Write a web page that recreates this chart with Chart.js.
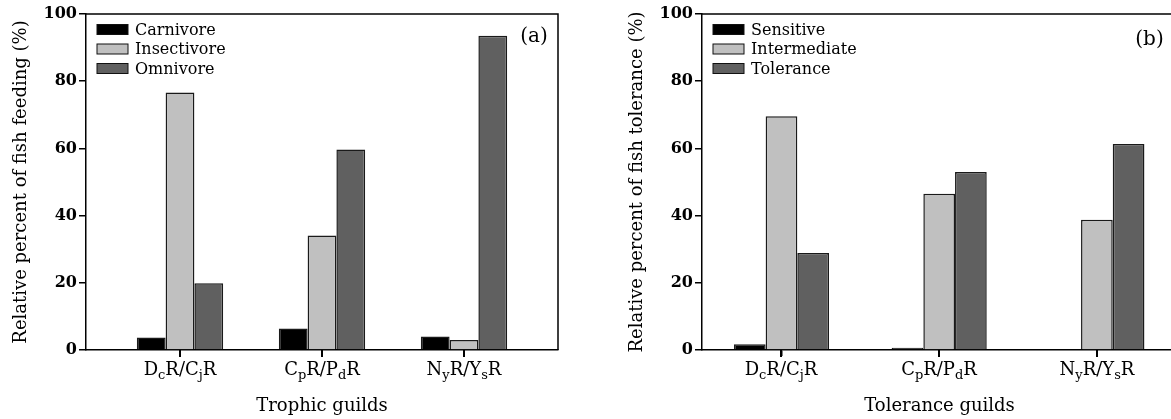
<!DOCTYPE html>
<html>
<head>
<meta charset="utf-8">
<script src="https://cdn.jsdelivr.net/npm/chart.js@4.4.0/dist/chart.umd.min.js"></script>
<style>
  html, body { margin: 0; padding: 0; background: #fff; overflow: hidden; width: 1171px; height: 419px; }
  .panel { position: absolute; top: 0; }
  #panelA { left: 0; }
  #panelB { left: 616px; }
</style>
</head>
<body>
<div class="panel" id="panelA"><canvas id="chartA" width="585" height="419"></canvas></div>
<div class="panel" id="panelB"><canvas id="chartB" width="590" height="419"></canvas></div>
<script>
// Data
const guilds = ['D_cR/C_jR', 'C_pR/P_dR', 'N_yR/Y_sR'];
const yTicks = [0, 20, 40, 60, 80, 100];

const feedingNames = ['Carnivore', 'Insectivore', 'Omnivore'];
const carnivore = [3.7, 6.4, 4.0];
const insectivore = [76.6, 34.1, 3.0];
const omnivore = [19.9, 59.7, 93.5];

const toleranceNames = ['Sensitive', 'Intermediate', 'Tolerance'];
const sensitive = [1.7, 0.7, 0];
const intermediate = [69.6, 46.5, 38.8];
const tolerant = [28.9, 53.0, 61.3];

const barColors = ['#000000', '#c0c0c0', '#606060'];
const serif = '"DejaVu Serif", serif';

// draw "D_cR/C_jR" with the _x letters as subscripts
function drawGuildLabel(ctx, text, cx, baseline) {
    const parts = [];
    for (let i = 0; i < text.length; i++) {
        if (text[i] === '_') { parts.push({ t: text[i + 1], sub: true }); i++; }
        else parts.push({ t: text[i], sub: false });
    }
    const mainFont = '18px ' + serif;
    const subFont = '13px ' + serif;
    let w = 0;
    parts.forEach(p => {
        ctx.font = p.sub ? subFont : mainFont;
        p.w = ctx.measureText(p.t).width;
        w += p.w;
    });
    let x = cx - w / 2;
    ctx.textAlign = 'left';
    ctx.textBaseline = 'alphabetic';
    parts.forEach(p => {
        ctx.font = p.sub ? subFont : mainFont;
        ctx.fillText(p.t, x, baseline + (p.sub ? 4 : 0));
        x += p.w;
    });
}

const decor = {
    id: 'decor',
    afterDraw(chart, args, opts) {
        const { ctx, chartArea: a, scales } = chart;
        ctx.save();
        // top and right frame
        ctx.strokeStyle = '#000';
        ctx.lineWidth = 1.5;
        ctx.beginPath();
        ctx.moveTo(a.left, a.top);
        ctx.lineTo(a.right, a.top);
        ctx.lineTo(a.right, a.bottom);
        ctx.stroke();

        // category tick marks and labels
        ctx.fillStyle = '#000';
        guilds.forEach((g, i) => {
            const px = Math.round(scales.x.getPixelForValue(i + 1));
            ctx.fillRect(px - 1, a.bottom, 2, 7);
            drawGuildLabel(ctx, g, px, a.bottom + 25);
        });

        // legend inside the plot
        chart.data.datasets.forEach((ds, i) => {
            const y = a.top + 15.5 + i * 19.5;
            ctx.fillStyle = ds.backgroundColor;
            ctx.fillRect(a.left + 11, y - 5, 31, 10);
            ctx.lineWidth = 1;
            ctx.strokeStyle = '#111';
            ctx.strokeRect(a.left + 11, y - 5, 31, 10);
            ctx.fillStyle = '#000';
            ctx.font = '16px ' + serif;
            ctx.textAlign = 'left';
            ctx.textBaseline = 'middle';
            ctx.fillText(ds.label, a.left + 49, y + 1);
        });

        // panel letter
        ctx.font = '20px ' + serif;
        ctx.textAlign = 'center';
        ctx.textBaseline = 'middle';
        ctx.fillText(opts.letter, a.right - opts.letterDx, opts.letterY);
        ctx.restore();
    }
};

function makeChart(id, names, series, o) {
    return new Chart(document.getElementById(id), {
        type: 'bar',
        data: {
            datasets: names.map((n, k) => ({
                label: n,
                data: series[k].map((v, i) => ({ x: i + 1, y: v })),
                backgroundColor: barColors[k],
                borderColor: '#1a1a1a',
                borderWidth: 1.5,
                categoryPercentage: o.catPct,
                barPercentage: 1
            }))
        },
        options: {
            responsive: false,
            animation: false,
            events: [],
            layout: { padding: { top: 14, left: 0, bottom: 0, right: o.padRight } },
            plugins: {
                legend: { display: false },
                tooltip: { enabled: false },
                decor: { letter: o.letter, letterDx: o.letterDx, letterY: o.letterY }
            },
            scales: {
                x: {
                    type: 'linear',
                    offset: false,
                    min: o.xMin,
                    max: o.xMax,
                    afterBuildTicks: s => { s.ticks = guilds.map((g, i) => ({ value: i + 1 })); },
                    afterFit: s => { s.height = 69; },
                    ticks: { display: false },
                    grid: { offset: false, drawOnChartArea: false, drawTicks: true, tickLength: 6, color: '#000', lineWidth: 1.5 },
                    border: { color: '#000', width: 1.5 },
                    title: {
                        display: true, text: o.xTitle, color: '#000',
                        font: { family: serif, size: 18 },
                        padding: { top: 0, bottom: 2 }
                    }
                },
                y: {
                    min: 0,
                    max: 100,
                    afterBuildTicks: s => { s.ticks = yTicks.map(v => ({ value: v })); },
                    afterFit: s => { s.width = 86; },
                    ticks: { color: '#000', font: { family: serif, size: 16, weight: 'bold' }, padding: 2 },
                    grid: { drawOnChartArea: false, tickLength: 7, color: '#000', lineWidth: 1.5 },
                    border: { color: '#000', width: 1.5 },
                    title: {
                        display: true, text: o.yTitle, color: '#000',
                        font: { family: serif, size: 18 },
                        padding: { top: 11, bottom: 0 }
                    }
                }
            }
        },
        plugins: [decor]
    });
}

makeChart('chartA', feedingNames, [carnivore, insectivore, omnivore], {
    xMin: 0.338, xMax: 3.662, catPct: 0.608, padRight: 27,
    xTitle: 'Trophic guilds', yTitle: 'Relative percent of fish feeding (%)',
    letter: '(a)', letterDx: 24, letterY: 37
});

makeChart('chartB', toleranceNames, [sensitive, intermediate, tolerant], {
    xMin: 0.496, xMax: 3.508, catPct: 0.603, padRight: 29,
    xTitle: 'Tolerance guilds', yTitle: 'Relative percent of fish tolerance (%)',
    letter: '(b)', letterDx: 27.5, letterY: 40
});
</script>
</body>
</html>
